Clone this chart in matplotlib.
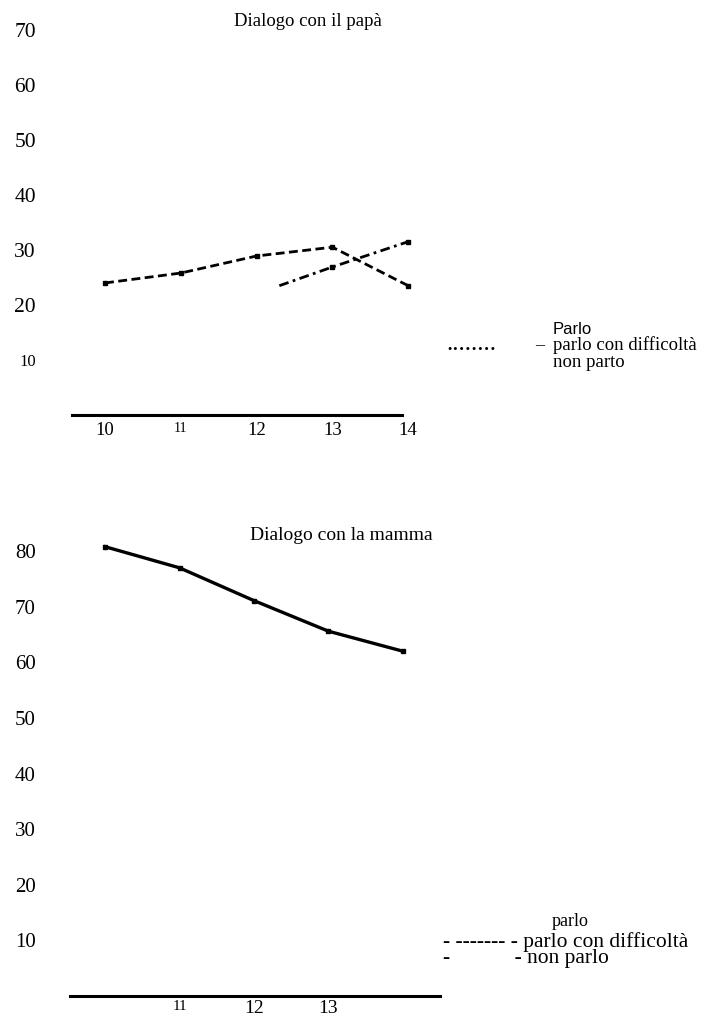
import matplotlib
matplotlib.use("Agg")
import matplotlib.pyplot as plt

W, H = 705, 1019
SERIF = ['Liberation Serif', 'DejaVu Serif']
NARROW = ['Liberation Sans Narrow', 'Liberation Sans', 'DejaVu Sans']
plt.rcParams['font.family'] = SERIF

# ---------------- data ----------------
eta = [10, 11, 12, 13, 14]

# Dialogo con il papà
papa_difficolta = [24.0, 25.8, 28.9, 30.5, 23.5]
papa_nonparlo_x = [12.3, 13, 14]
papa_nonparlo = [23.5, 26.9, 31.5]
papa_yticks = [10, 20, 30, 40, 50, 60, 70]
papa_xticklabels = ['10', '11', '12', '13', '14']

# Dialogo con la mamma
mamma_parlo = [80.8, 77.0, 71.1, 65.6, 62.0]
mamma_yticks = [10, 20, 30, 40, 50, 60, 70, 80]
mamma_xticks = [11, 12, 13]
mamma_xticklabels = ['11', '12', '13']

fig = plt.figure(figsize=(W / 100, H / 100), dpi=100)


def px_axes(l, t, r, b):
    return fig.add_axes([l / W, 1 - b / H, (r - l) / W, (b - t) / H])


def style(ax, lw=2.2):
    for s in ('top', 'right', 'left'):
        ax.spines[s].set_visible(False)
    ax.spines['bottom'].set_linewidth(lw)
    ax.tick_params(length=0)
    ax.patch.set_alpha(0)


# ---------------- top panel ----------------
ax1 = px_axes(72, 15, 415, 415)
ax1.set_xlim(9.564, 14.09)
ax1.set_ylim(0, 72.7)
style(ax1)
ax1.spines['bottom'].set_bounds(9.564, 13.92)

ax1.plot(eta, papa_difficolta, color='black', lw=2.0, linestyle=(0, (3.2, 1.6)),
         marker='s', markersize=3, clip_on=False)
ax1.plot(papa_nonparlo_x, papa_nonparlo, color='black', lw=2.0,
         linestyle=(0, (3.5, 1.6, 1.0, 1.6)), marker='s', markersize=3,
         markevery=[1, 2], clip_on=False)

ax1.set_yticks(papa_yticks)
ax1.set_yticklabels([str(v) for v in papa_yticks])
ax1.tick_params(axis='y', pad=26)
for lab in ax1.get_yticklabels():
    lab.set_fontsize(12 if lab.get_text() == '10' else 15.5)

ax1.set_xticks(eta)
ax1.set_xticklabels(papa_xticklabels)
ax1.tick_params(axis='x', pad=5)
for lab in ax1.get_xticklabels():
    lab.set_fontsize(10 if lab.get_text() == '11' else 13.5)

fig.text(308 / W, 1 - 22 / H, 'Dialogo con il papà', ha='center', va='center',
         fontsize=13.5)

# top legend (as text)
fig.text(553 / W, 1 - 330 / H, 'Parlo', ha='left', va='center', fontsize=12,
         family=NARROW)
fig.text(446 / W, 1 - 350 / H, '........', ha='left', va='baseline', fontsize=18)
fig.text(535 / W, 1 - 346 / H, '–', ha='left', va='center', fontsize=13)
fig.text(553 / W, 1 - 353.5 / H, 'parlo con difficoltà\nnon parto', ha='left',
         va='center', fontsize=13.5, linespacing=0.95)

# ---------------- bottom panel ----------------
ax2 = px_axes(70, 520, 440, 996)
ax2.set_xlim(9.530, 14.497)
ax2.set_ylim(0, 85.6)
style(ax2)

ax2.plot(eta, mamma_parlo, color='black', lw=2.4, marker='s', markersize=3,
         clip_on=False)

ax2.set_yticks(mamma_yticks)
ax2.set_yticklabels([str(v) for v in mamma_yticks])
ax2.tick_params(axis='y', pad=24.5)
for lab in ax2.get_yticklabels():
    lab.set_fontsize(15)

ax2.set_xticks(mamma_xticks)
ax2.set_xticklabels(mamma_xticklabels)
ax2.tick_params(axis='x', pad=3)
for lab in ax2.get_xticklabels():
    lab.set_fontsize(11 if lab.get_text() == '11' else 14)

fig.text(341 / W, 1 - 536 / H, 'Dialogo con la mamma', ha='center', va='center',
         fontsize=14)

# bottom legend (as text)
fig.text(552 / W, 1 - 921 / H, 'parlo', ha='left', va='center', fontsize=13)
fig.text(443 / W, 1 - 950 / H,
         '- ------- - parlo con difficoltà\n-' + ' ' * 12 + '- non parlo',
         ha='left', va='center', fontsize=15.5, linespacing=0.8)

fig.savefig('out.png', dpi=100)
